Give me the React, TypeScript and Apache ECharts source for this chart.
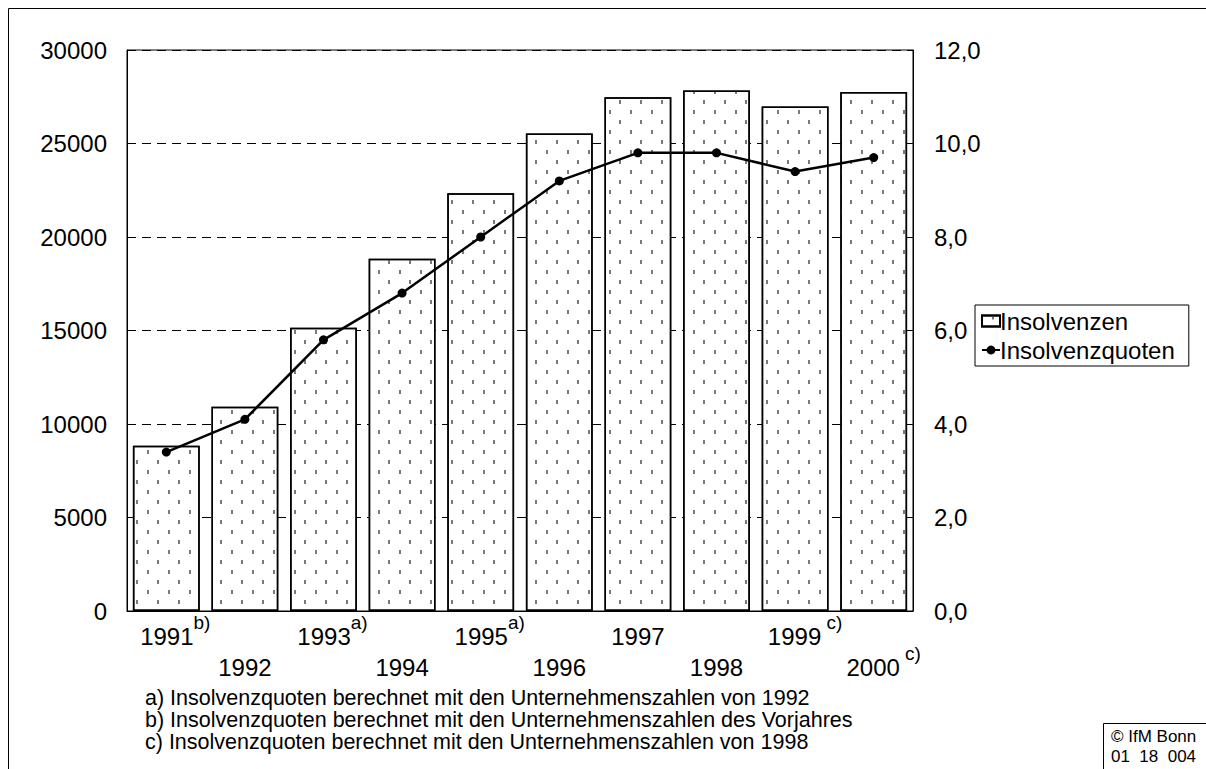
import React, { useEffect, useRef } from "react";
import * as echarts from "echarts";

const categories = ["1991", "1992", "1993", "1994", "1995", "1996", "1997", "1998", "1999", "2000"];
const superscripts = ["b)", "", "a)", "", "a)", "", "", "", " c)", " c)"];
const insolvenzen = [8840, 10920, 15150, 18840, 22340, 25530, 27470, 27830, 26980, 27760];
const insolvenzquoten = [3.4, 4.1, 5.8, 6.8, 8.0, 9.2, 9.8, 9.8, 9.4, 9.7];
const leftTicks = { min: 0, max: 30000, interval: 5000 };
const rightTicks = { min: 0, max: 12, interval: 2 };
const footnotes = [
  "a) Insolvenzquoten berechnet mit den Unternehmenszahlen von 1992",
  "b) Insolvenzquoten berechnet mit den Unternehmenszahlen des Vorjahres",
  "c) Insolvenzquoten berechnet mit den Unternehmenszahlen von 1998",
];
const copyrightLines = ["© IfM Bonn", "01  18  004"];

const FONT = "Liberation Sans, Arial, sans-serif";

export default function App() {
  const ref = useRef<HTMLDivElement>(null);
  useEffect(() => {
    if (!ref.current) return;
    const chart = echarts.init(ref.current, undefined, { renderer: "svg" });
    const spacer = (s: string) => (s.startsWith(" ") ? "{p20| }" : "{p18| }");
    chart.setOption({
      animation: false,
      backgroundColor: "#fff",
      textStyle: { fontFamily: FONT, color: "#000" },
      grid: {
        left: 127,
        right: 293,
        top: 50,
        bottom: 158,
        show: true,
        borderColor: "#000",
        borderWidth: 1,
        containLabel: false,
      },
      legend: {
        orient: "vertical",
        left: 975,
        top: 305,
        backgroundColor: "#fff",
        borderColor: "#000",
        borderWidth: 1,
        borderRadius: 0,
        padding: [4, 14, 4, 6],
        itemGap: 5,
        itemWidth: 18,
        itemHeight: 11,
        textStyle: { fontSize: 24, color: "#000", fontFamily: FONT, padding: [0, 0, 0, -5] },
        data: [{ name: "Insolvenzen", icon: "rect" }, { name: "Insolvenzquoten" }],
      },
      xAxis: {
        type: "category",
        data: categories,
        axisLine: { show: true, lineStyle: { color: "#000", width: 1 } },
        axisTick: { show: false },
        axisLabel: {
          interval: 0,
          margin: 2,
          color: "#000",
          fontFamily: FONT,
          lineHeight: 31,
          formatter: (v: string, i: number) => {
            const sup = superscripts[i];
            const row2 = i % 2 === 1;
            const body = sup ? `${spacer(sup)}{n|${v}}{s|${sup}}` : `{n|${v}}`;
            return row2 ? `\n${body}` : body;
          },
          rich: {
            n: { fontSize: 24, lineHeight: 46, fontFamily: FONT, color: "#000" },
            s: { fontSize: 19, lineHeight: 27, verticalAlign: "top", fontFamily: FONT, color: "#000" },
            p18: { width: 18, fontSize: 18, lineHeight: 26 },
            p20: { width: 20, fontSize: 18, lineHeight: 26 },
          },
        },
      },
      yAxis: [
        {
          type: "value",
          min: leftTicks.min,
          max: leftTicks.max,
          interval: leftTicks.interval,
          axisLine: { show: true, lineStyle: { color: "#000", width: 1 } },
          axisTick: { show: true, inside: true, length: 5, lineStyle: { color: "#000" } },
          axisLabel: {
            fontSize: 24,
            color: "#000",
            margin: 20,
            fontFamily: FONT,
            formatter: (v: number) => String(v),
          },
          splitLine: { show: true, lineStyle: { color: "#000", width: 1, type: [9, 6] } },
        },
        {
          type: "value",
          min: rightTicks.min,
          max: rightTicks.max,
          interval: rightTicks.interval,
          position: "right",
          axisLine: { show: true, lineStyle: { color: "#000", width: 1 } },
          axisTick: { show: true, inside: true, length: 5, lineStyle: { color: "#000" } },
          axisLabel: {
            fontSize: 24,
            color: "#000",
            margin: 21,
            fontFamily: FONT,
            formatter: (v: number) => v.toFixed(1).replace(".", ","),
          },
          splitLine: { show: false },
        },
      ],
      series: [
        {
          name: "Insolvenzen",
          type: "bar",
          data: insolvenzen,
          barCategoryGap: "15%",
          itemStyle: {
            color: "#fff",
            borderColor: "#000",
            borderWidth: 1.5,
            decal: {
              symbol: "rect",
              symbolSize: 1,
              color: "#7a7a7a",
              dashArrayX: [
                [2, 19],
                [0, 10, 2, 9],
              ],
              dashArrayY: [4, 6],
              rotation: 0,
            },
          },
          z: 2,
        },
        {
          name: "Insolvenzquoten",
          type: "line",
          yAxisIndex: 1,
          data: insolvenzquoten,
          symbol: "circle",
          symbolSize: 9,
          itemStyle: { color: "#000" },
          lineStyle: { color: "#000", width: 2.5 },
          z: 5,
        },
      ],
      graphic: [
        {
          type: "line",
          shape: { x1: 8.5, y1: 8.5, x2: 1206, y2: 8.5 },
          style: { stroke: "#000", lineWidth: 1 },
        },
        {
          type: "line",
          shape: { x1: 8.5, y1: 8.5, x2: 8.5, y2: 769 },
          style: { stroke: "#000", lineWidth: 1 },
        },
        {
          type: "text",
          left: 145,
          top: 687,
          style: {
            text: footnotes.join("\n"),
            fontSize: 21.5,
            lineHeight: 22,
            fontFamily: FONT,
            fill: "#000",
          },
        },
        {
          type: "rect",
          shape: { x: 1103.5, y: 723.5, width: 200, height: 100 },
          style: { fill: "#fff", stroke: "#000", lineWidth: 1 },
        },
        {
          type: "text",
          left: 1111,
          top: 726,
          style: {
            text: copyrightLines.join("\n"),
            fontSize: 17,
            lineHeight: 20,
            fontFamily: FONT,
            fill: "#000",
          },
        },
      ],
    });
    return () => chart.dispose();
  }, []);
  return (
    <div
      ref={ref}
      style={{ position: "absolute", left: 0, top: 0, width: 1206, height: 769 }}
    />
  );
}
